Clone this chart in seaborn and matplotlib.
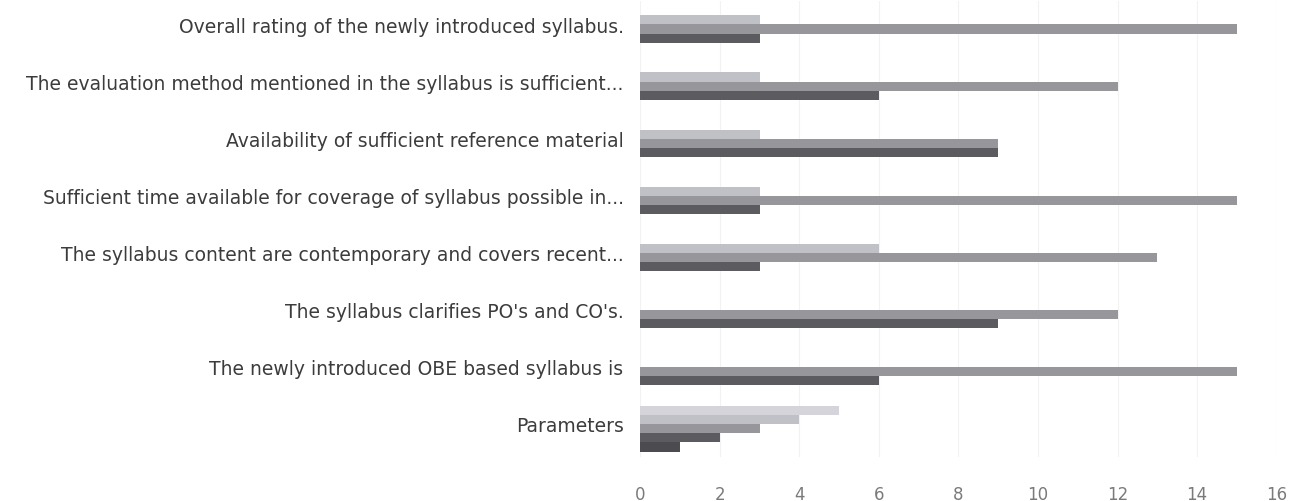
import matplotlib
matplotlib.use("Agg")
import matplotlib.pyplot as plt
import matplotlib.transforms as mtransforms
import pandas as pd
import seaborn as sns

# ---------------------------------------------------------------------------
# Data
# ---------------------------------------------------------------------------
questions = [
    "Overall rating of the newly introduced syllabus.",
    "The evaluation method mentioned in the syllabus is sufficient...",
    "Availability of sufficient reference material",
    "Sufficient time available for coverage of syllabus possible in...",
    "The syllabus content are contemporary and covers recent...",
    "The syllabus clarifies PO's and CO's.",
    "The newly introduced OBE based syllabus is",
    "Parameters",
]

# one list per rating column, in the order drawn top -> bottom in each group
series_names = ["5", "4", "3", "2", "1"]
score_5 = [0, 0, 0, 0, 0, 0, 0, 5]
score_4 = [3, 3, 3, 3, 6, 0, 0, 4]
score_3 = [15, 12, 9, 15, 13, 12, 15, 3]
score_2 = [3, 6, 9, 3, 3, 9, 6, 2]
score_1 = [0, 0, 0, 0, 0, 0, 0, 1]

x_ticks = [0, 2, 4, 6, 8, 10, 12, 14, 16]

colors = ["#d4d4da", "#c0c0c7", "#96969b", "#5c5c60", "#4c4c50"]

# long table for seaborn
rows = []
for name, vals in zip(series_names, [score_5, score_4, score_3, score_2, score_1]):
    for q, v in zip(questions, vals):
        rows.append({"question": q, "series": name, "count": v})
df = pd.DataFrame(rows)

sns.set_theme(style="white")
plt.rcParams["font.family"] = ["DejaVu Sans"]

fig = plt.figure(figsize=(13.04, 5.02), dpi=100)
ax = fig.add_axes([0.491, 0.087, 0.488, 0.91])

sns.barplot(
    data=df,
    y="question",
    x="count",
    hue="series",
    order=questions,
    hue_order=series_names,
    palette=colors,
    orient="h",
    width=0.8,
    saturation=1,
    errorbar=None,
    legend=False,
    linewidth=0,
    ax=ax,
)

ax.set_xlim(0, 16)
ax.set_xticks(x_ticks)
ax.set_xticklabels([str(t) for t in x_ticks])
ax.set_xlabel("")
ax.set_ylabel("")
ax.grid(axis="x", color="#f2f2f2", linewidth=0.8)
ax.set_axisbelow(True)
sns.despine(ax=ax, left=True, bottom=True)

ax.tick_params(axis="x", length=0, pad=20, labelsize=12, labelcolor="#7a7a7a")
ax.tick_params(axis="y", length=0, pad=12, labelsize=13.5, labelcolor="#3c3c3c")

# category labels sit a little above the bar groups in the original
shift = mtransforms.ScaledTranslation(0, 5 / 100, fig.dpi_scale_trans)
for lab in ax.get_yticklabels():
    lab.set_transform(lab.get_transform() + shift)

fig.savefig("out.png", dpi=100, facecolor="white")
